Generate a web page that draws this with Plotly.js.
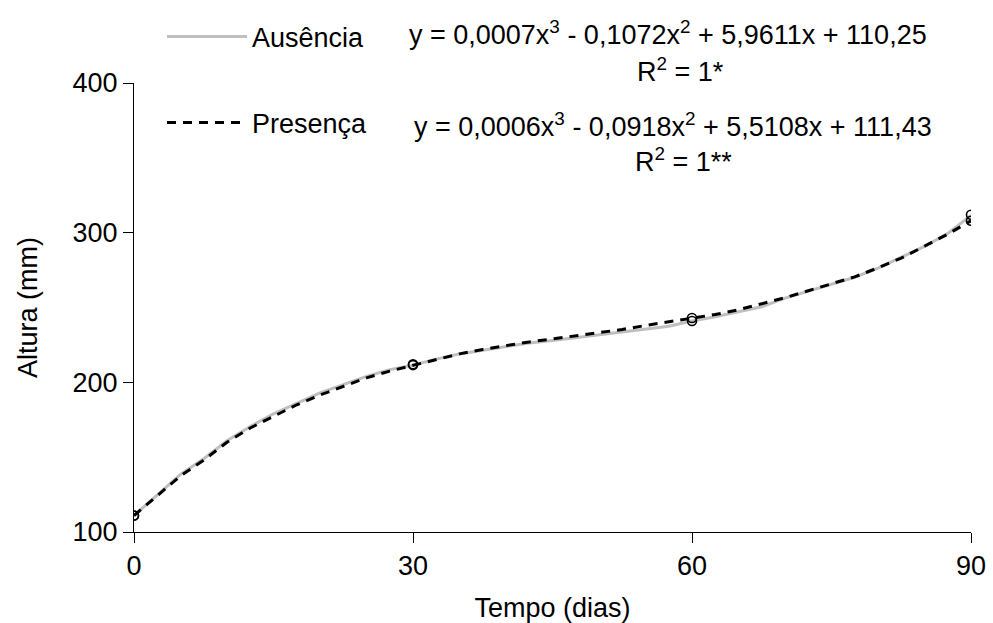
<!DOCTYPE html>
<html>
<head>
<meta charset="utf-8">
<script src="https://cdn.plot.ly/plotly-3.0.1.min.js"></script>
<style>html,body{margin:0;padding:0;background:#fff;}#chart{width:993px;height:623px;}</style>
</head>
<body>
<div id="chart"></div>
<script>
// Curve sample positions (days) and heights (mm)
const curveDays = [0,2.5,5,7.5,10,12.5,15,17.5,20,22.5,25,27.5,30,32.5,35,37.5,40,42.5,45,47.5,50,52.5,55,57.5,60,62.5,65,67.5,70,72.5,75,77.5,80,82.5,85,87.5,90];
const ausenciaCurve = [111,125,138.5,149,161,170.5,179,186,193,198.5,204,208.5,211.5,215.5,219,221.5,224,226.3,228,229.8,231.8,233.5,235.2,237.5,241,243.8,247.2,250.5,256.3,261,265.3,270.2,276.3,283.3,290.8,299.5,311.5];
const presencaCurve = [111,124.5,137.5,148,160,169.5,177.5,185,191.5,197.5,203,207.5,211.5,215.5,219,222,224.5,227,229,231,233.3,235.3,238,240.5,243,245.3,248.5,252.5,256.5,261.2,265.7,270.5,276.5,283,291,299,308];
// Observed points
const obsDays = [0,30,60,90];
const ausenciaObs = [111,211.5,241,312];
const presencaObs = [111,212,243,308];
// Labels
const seriesNames = ['Ausência','Presença'];
const xTicks = [0,30,60,90];
const yTicks = [100,200,300,400];
const eqAusencia = 'y = 0,0007x<sup>3</sup> - 0,1072x<sup>2</sup> + 5,9611x + 110,25';
const r2Ausencia = 'R<sup>2</sup> = 1*';
const eqPresenca = 'y = 0,0006x<sup>3</sup> - 0,0918x<sup>2</sup> + 5,5108x + 111,43';
const r2Presenca = 'R<sup>2</sup> = 1**';

const FONT = '"Liberation Sans", Arial, sans-serif';
const FS = 27;

const traces = [
  {x: curveDays, y: ausenciaCurve, mode: 'lines', name: seriesNames[0],
   line: {color: '#BFBFBF', width: 3}, legend: 'legend'},
  {x: curveDays, y: presencaCurve, mode: 'lines', name: seriesNames[1],
   line: {color: '#000000', width: 3, dash: '9px,7px'}, legend: 'legend2'},
  {x: obsDays, y: ausenciaObs, mode: 'markers', showlegend: false,
   marker: {symbol: 'circle-open', size: 9, color: '#000', line: {width: 1.6, color: '#000'}}},
  {x: obsDays, y: presencaObs, mode: 'markers', showlegend: false,
   marker: {symbol: 'circle-open', size: 9, color: '#000', line: {width: 1.6, color: '#000'}}}
];

const W = 993, H = 623, ML = 134, MR = 22, MT = 83, MB = 91;
const PW = W - ML - MR, PH = H - MT - MB;
function px(x) { return (x - ML) / PW; }
function py(y) { return (H - MB - y) / PH; }

const layout = {
  width: W, height: H,
  margin: {l: ML, r: MR, t: MT, b: MB, autoexpand: false},
  paper_bgcolor: '#fff', plot_bgcolor: '#fff',
  font: {family: FONT, size: FS, color: '#000'},
  showlegend: true,
  xaxis: {
    range: [0, 90], tickvals: xTicks, ticktext: xTicks.map(String),
    showgrid: false, zeroline: false, showline: true, linecolor: '#000', linewidth: 1,
    ticks: 'outside', ticklen: 10, tickcolor: '#000', tickwidth: 1,
    tickfont: {family: FONT, size: FS},
    title: {text: 'Tempo (dias)', font: {family: FONT, size: FS}}
  },
  yaxis: {
    range: [100, 400], tickvals: yTicks, ticktext: yTicks.map(String),
    showgrid: false, zeroline: false, showline: true, linecolor: '#000', linewidth: 1,
    ticks: 'outside', ticklen: 10, tickcolor: '#000', tickwidth: 1,
    tickfont: {family: FONT, size: FS},
    title: {text: 'Altura (mm)', font: {family: FONT, size: FS}, standoff: 27}
  },
  legend: {x: px(162), y: py(37), xref: 'paper', yref: 'paper', xanchor: 'left', yanchor: 'middle',
    bgcolor: 'rgba(0,0,0,0)', font: {family: FONT, size: FS}, itemwidth: 80},
  legend2: {x: px(162), y: py(123), xref: 'paper', yref: 'paper', xanchor: 'left', yanchor: 'middle',
    bgcolor: 'rgba(0,0,0,0)', font: {family: FONT, size: FS}, itemwidth: 80},
  annotations: [
    {text: eqAusencia, xref: 'paper', yref: 'paper', x: px(668), y: py(33), xanchor: 'center', yanchor: 'middle', showarrow: false, font: {family: FONT, size: FS}},
    {text: r2Ausencia, xref: 'paper', yref: 'paper', x: px(680), y: py(70), xanchor: 'center', yanchor: 'middle', showarrow: false, font: {family: FONT, size: FS}},
    {text: eqPresenca, xref: 'paper', yref: 'paper', x: px(673), y: py(125), xanchor: 'center', yanchor: 'middle', showarrow: false, font: {family: FONT, size: FS}},
    {text: r2Presenca, xref: 'paper', yref: 'paper', x: px(683), y: py(160), xanchor: 'center', yanchor: 'middle', showarrow: false, font: {family: FONT, size: FS}}
  ]
};

Plotly.newPlot('chart', traces, layout, {displayModeBar: false, staticPlot: true});
</script>
</body>
</html>
